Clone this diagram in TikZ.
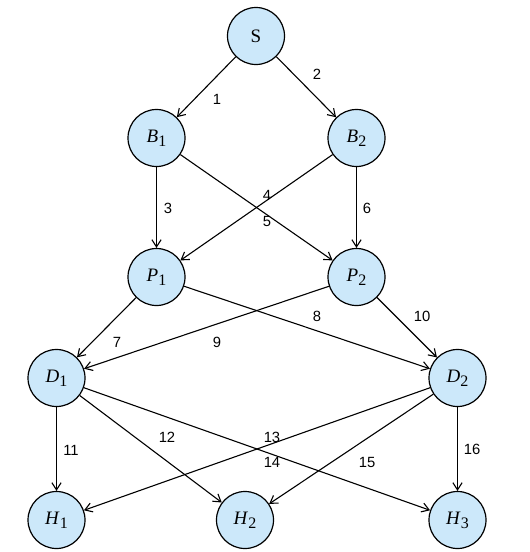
\documentclass[tikz,border=0pt]{standalone}
\usepackage{fontspec}
\setmainfont{Liberation Serif}
\newfontfamily\numfont{Liberation Sans}
\usetikzlibrary{arrows.meta}
\definecolor{nodeblue}{RGB}{204,232,250}
\newcommand{\sub}[2]{\textit{#1}\raisebox{-0.45ex}{\fontsize{8pt}{9pt}\selectfont #2}}
\begin{document}
\begin{tikzpicture}[x=0.5pt,y=-0.5pt,
  state/.style={circle,draw,line width=0.6pt,fill=nodeblue,minimum size=28.5pt,inner sep=0pt,font=\fontsize{9.5pt}{11pt}\selectfont},
  edge/.style={line width=0.55pt,-{Straight Barb[length=3.6pt,width=4.6pt]}},
  lbl/.style={font=\numfont\fontsize{7.4pt}{8pt}\selectfont,inner sep=0pt}]
\useasboundingbox (0,0) rectangle (530,552);
\node[state] (S) at (256,36) {S};
\node[state] (B1) at (156.5,138) {\sub{B}{1}};
\node[state] (B2) at (356.5,138) {\sub{B}{2}};
\node[state] (P1) at (156.5,277) {\sub{P}{1}};
\node[state] (P2) at (356.5,277) {\sub{P}{2}};
\node[state] (D1) at (56.5,378) {\sub{D}{1}};
\node[state] (D2) at (457.5,378) {\sub{D}{2}};
\node[state] (H1) at (56.5,520) {\sub{H}{1}};
\node[state] (H2) at (245,520) {\sub{H}{2}};
\node[state] (H3) at (457.5,520) {\sub{H}{3}};
\draw[edge] (S) -- (B1);
\draw[edge] (S) -- (B2);
\draw[edge] (B1) -- (P1);
\draw[edge] (B2) -- (P1);
\draw[edge] (B1) -- (P2);
\draw[edge] (B2) -- (P2);
\draw[edge] (P1) -- (D1);
\draw[edge] (P1) -- (D2);
\draw[edge] (P2) -- (D1);
\draw[edge] (P2) -- (D2);
\draw[edge] (D1) -- (H1);
\draw[edge] (D1) -- (H2);
\draw[edge] (D2) -- (H1);
\draw[edge] (D1) -- (H3);
\draw[edge] (D2) -- (H2);
\draw[edge] (D2) -- (H3);
\node[lbl] (l1) at (217,99) {1};
\node[lbl] (l2) at (317,74) {2};
\node[lbl] (l3) at (168,208) {3};
\node[lbl] (l4) at (267,195) {4};
\node[lbl] (l5) at (267,221) {5};
\node[lbl] (l6) at (367,208) {6};
\node[lbl] (l7) at (117,342) {7};
\node[lbl] (l8) at (317,316) {8};
\node[lbl] (l9) at (217,342) {9};
\node[lbl] (l10) at (422,316) {10};
\node[lbl] (l11) at (71,450) {11};
\node[lbl] (l12) at (167,437) {12};
\node[lbl] (l13) at (272,437) {13};
\node[lbl] (l14) at (272,462) {14};
\node[lbl] (l15) at (367,462) {15};
\node[lbl] (l16) at (472,449) {16};
\end{tikzpicture}
\end{document}
